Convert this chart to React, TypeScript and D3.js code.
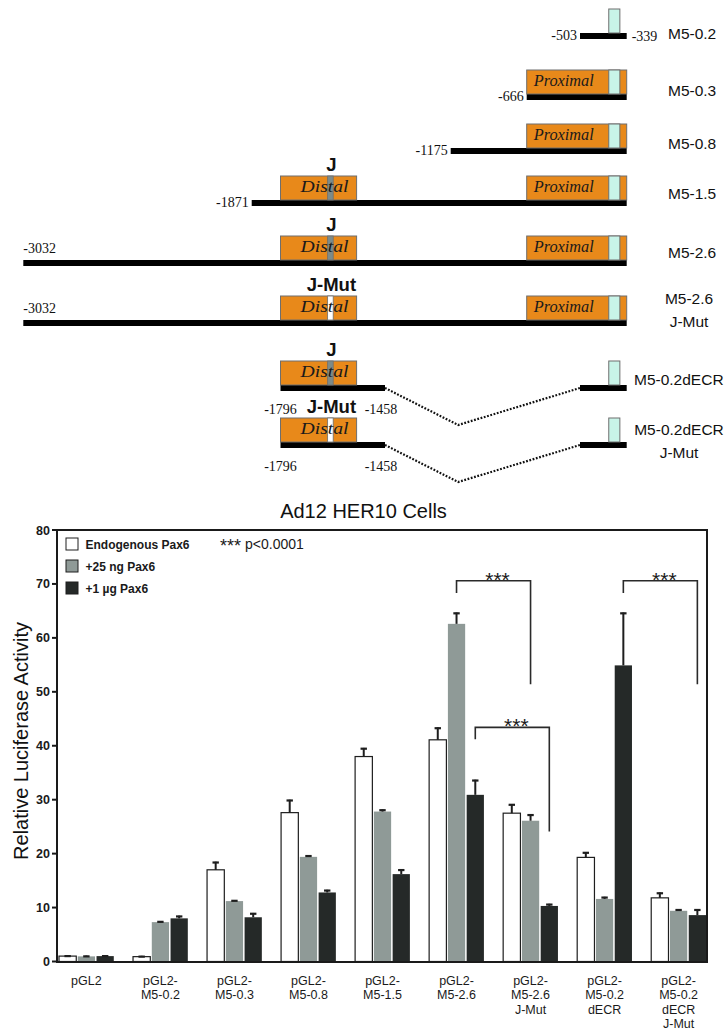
import React from "react";
import * as d3 from "d3";

// ---------------- Bar chart data ----------------
const groupLabelLines: string[][] = [
  ["pGL2"],
  ["pGL2-", "M5-0.2"],
  ["pGL2-", "M5-0.3"],
  ["pGL2-", "M5-0.8"],
  ["pGL2-", "M5-1.5"],
  ["pGL2-", "M5-2.6"],
  ["pGL2-", "M5-2.6", "J-Mut"],
  ["pGL2-", "M5-0.2", "dECR"],
  ["pGL2-", "M5-0.2", "dECR", "J-Mut"],
];
const seriesNames = ["Endogenous Pax6", "+25 ng Pax6", "+1 µg Pax6"];
const endogenous = [1.0, 0.9, 17.0, 27.6, 38.0, 41.1, 27.5, 19.3, 11.8];
const endogenousErr = [0.15, 0.15, 1.5, 2.4, 1.6, 2.3, 1.7, 1.0, 1.0];
const pax6_25ng = [0.95, 7.3, 11.2, 19.4, 27.8, 62.6, 26.1, 11.6, 9.4];
const pax6_25ngErr = [0.15, 0.2, 0.2, 0.3, 0.4, 2.1, 1.2, 0.4, 0.3];
const pax6_1ug = [1.0, 8.0, 8.2, 12.8, 16.2, 30.9, 10.3, 54.9, 8.6];
const pax6_1ugErr = [0.15, 0.5, 0.8, 0.5, 0.9, 2.8, 0.4, 9.8, 1.1];
const yTicks = [0, 10, 20, 30, 40, 50, 60, 70, 80];
const chartTitle = "Ad12 HER10 Cells";
const yAxisTitle = "Relative Luciferase Activity";
const pValueStars = "***";
const pValueText = "p<0.0001";
const sigLabel = "***";
const bracketFrom = [5, 5, 7];
const bracketTo = [6, 6, 8];
const bracketSeries = [1, 2, 2];
const bracketTop = [70.6, 43.4, 70.6];
const bracketLeftEnd = [68.3, 41.2, 68.3];
const bracketRightEnd = [51.4, 24.1, 51.4];

// ---------------- Promoter diagram data ----------------
const constructRightLabels: string[][] = [
  ["M5-0.2"],
  ["M5-0.3"],
  ["M5-0.8"],
  ["M5-1.5"],
  ["M5-2.6"],
  ["M5-2.6", "J-Mut"],
  ["M5-0.2dECR"],
  ["M5-0.2dECR", "J-Mut"],
];
const constructStart = [-503, -666, -1175, -1871, -3032, -3032, -1796, -1796];
const constructEnd = -339;
const distalSite = ["", "", "", "J", "J", "J-Mut", "J", "J-Mut"];
const hasProximal = [false, true, true, true, true, true, false, false];
const hasDeletion = [false, false, false, false, false, false, true, true];
const deletionRange = [-1458, -503];
const distalRange = [-1796, -1549];
const jSiteRange = [-1643, -1625];
const proximalRange = [-666, -339];
const tataRange = [-402, -363];
const startLabelMode = ["end", "end", "end", "end", "above", "above", "below", "below"];

// ---------------- layout ----------------
const W = 726;
const H = 1030;
const SANS = "'Liberation Sans', Arial, Helvetica, sans-serif";
const SERIF = "'Liberation Serif', 'Times New Roman', serif";
const ORANGE = "#e8891a";
const MINT = "#c8f4e8";
const BOX_STROKE = "#6e6e6e";
const rowBarTop = [33, 94, 148, 200, 260, 320, 385, 442];
const rightLabelBaseline = [39, 96, 149, 199, 258, 304, 385, 435];

export default function App() {
  const nG = groupLabelLines.length;
  const x0 = d3
    .scaleBand<number>()
    .domain(d3.range(nG))
    .range([59, 706])
    .paddingInner(0.26)
    .paddingOuter(0);
  const x1 = d3
    .scaleBand<number>()
    .domain([0, 1, 2])
    .range([0, x0.bandwidth()])
    .paddingInner(0.08);
  const y = d3.scaleLinear().domain([0, 80]).range([961.5, 530]);
  const plotLeft = 57;
  const plotRight = 707;

  const series = [
    { values: endogenous, err: endogenousErr, fill: "#ffffff", stroke: "#1e1e1e" },
    { values: pax6_25ng, err: pax6_25ngErr, fill: "#8f9a97", stroke: "none" },
    { values: pax6_1ug, err: pax6_1ugErr, fill: "#252928", stroke: "none" },
  ];
  const barCenter = (g: number, s: number) => (x0(g) as number) + (x1(s) as number) + x1.bandwidth() / 2;

  const bp = d3
    .scaleLinear()
    .domain([-3032, -1871, -1796, -1549, -1458, -1175, -666, -503, -339])
    .range([23.3, 251.7, 280.5, 356.6, 385, 450.7, 526.7, 580, 626.7]);
  const BAR_H = 6;
  const BOX_H = 24;

  const diagram = constructRightLabels.map((lines, i) => {
    const top = rowBarTop[i];
    const boxTop = top - BOX_H;
    const els: React.ReactNode[] = [];
    if (hasDeletion[i]) {
      const xa = bp(constructStart[i]);
      const xb = bp(deletionRange[0]);
      const xc = bp(deletionRange[1]);
      const xd = bp(constructEnd);
      els.push(<rect key="b1" x={xa} y={top} width={xb - xa} height={BAR_H} fill="#000" />);
      els.push(<rect key="b2" x={xc} y={top} width={xd - xc} height={BAR_H} fill="#000" />);
      const vx = xb + (xc - xb) * 0.375;
      els.push(
        <polyline
          key="dots"
          points={`${xb},${top + 3} ${vx},${top + 40} ${xc},${top + 3}`}
          fill="none"
          stroke="#111"
          strokeWidth={2.2}
          strokeDasharray="1.8,1.6"
        />
      );
    } else {
      const xa = bp(constructStart[i]);
      const xd = bp(constructEnd);
      els.push(<rect key="b" x={xa} y={top} width={xd - xa} height={BAR_H} fill="#000" />);
    }
    if (distalSite[i]) {
      const dx0 = bp(distalRange[0]);
      const dx1 = bp(distalRange[1]);
      const jx0 = bp(jSiteRange[0]);
      const jx1 = bp(jSiteRange[1]);
      const mut = distalSite[i] === "J-Mut";
      els.push(
        <rect key="dist" x={dx0} y={boxTop} width={dx1 - dx0} height={BOX_H} fill={ORANGE} stroke={BOX_STROKE} strokeWidth={1} />
      );
      els.push(
        <rect key="j" x={jx0} y={boxTop} width={jx1 - jx0} height={BOX_H} fill={mut ? "#ffffff" : "#7d8b89"} stroke={BOX_STROKE} strokeWidth={0.8} />
      );
      els.push(
        <text
          key="dt"
          x={(dx0 + dx1) / 2 + 6}
          y={top - 8}
          textAnchor="middle"
          fontFamily={SERIF}
          fontStyle="italic"
          fontSize={16}
          textLength={48}
          lengthAdjust="spacingAndGlyphs"
          fill="#1a1a1a"
        >
          Distal
        </text>
      );
      els.push(
        <text
          key="jl"
          x={(jx0 + jx1) / 2 + 1}
          y={boxTop - 5}
          textAnchor="middle"
          fontFamily={SANS}
          fontWeight="bold"
          fontSize={18.5}
          fill="#111"
        >
          {distalSite[i]}
        </text>
      );
    }
    const tx0 = bp(tataRange[0]);
    const tx1 = bp(tataRange[1]);
    if (hasProximal[i]) {
      const px0 = bp(proximalRange[0]);
      const px1 = bp(proximalRange[1]);
      els.push(
        <rect key="prox" x={px0} y={boxTop} width={px1 - px0} height={BOX_H} fill={ORANGE} stroke={BOX_STROKE} strokeWidth={1} />
      );
      els.push(
        <text
          key="pt"
          x={(px0 + tx0) / 2 - 4}
          y={top - 8}
          textAnchor="middle"
          fontFamily={SERIF}
          fontStyle="italic"
          fontSize={16}
          textLength={60}
          lengthAdjust="spacingAndGlyphs"
          fill="#1a1a1a"
        >
          Proximal
        </text>
      );
    }
    els.push(
      <rect key="tata" x={tx0} y={boxTop} width={tx1 - tx0} height={BOX_H} fill={MINT} stroke={BOX_STROKE} strokeWidth={1} />
    );
    const mode = startLabelMode[i];
    const sx = bp(constructStart[i]);
    if (mode === "end") {
      els.push(
        <text key="sl" x={sx - 3} y={top + 7} textAnchor="end" fontFamily={SERIF} fontSize={14} fill="#111">
          {String(constructStart[i])}
        </text>
      );
    } else if (mode === "above") {
      els.push(
        <text key="sl" x={sx} y={top - 7} textAnchor="start" fontFamily={SERIF} fontSize={14} fill="#111">
          {String(constructStart[i])}
        </text>
      );
    } else {
      els.push(
        <text key="sl" x={sx} y={top + 29} textAnchor="middle" fontFamily={SERIF} fontSize={14} fill="#111">
          {String(constructStart[i])}
        </text>
      );
      els.push(
        <text key="sl2" x={bp(deletionRange[0]) - 4} y={top + 29} textAnchor="middle" fontFamily={SERIF} fontSize={14} fill="#111">
          {String(deletionRange[0])}
        </text>
      );
    }
    if (i === 0) {
      els.push(
        <text key="el" x={bp(constructEnd) + 5} y={top + 8} textAnchor="start" fontFamily={SERIF} fontSize={14} fill="#111">
          {String(constructEnd)}
        </text>
      );
    }
    if (lines.length === 1) {
      els.push(
        <text
          key="rl"
          x={lines[0].length > 7 ? 634 : 668}
          y={rightLabelBaseline[i]}
          textAnchor="start"
          fontFamily={SANS}
          fontSize={15.5}
          fill="#111"
        >
          {lines[0]}
        </text>
      );
    } else {
      const cx = lines[0].length > 7 ? 679 : 689;
      lines.forEach((ln, k) => {
        els.push(
          <text
            key={"rl" + k}
            x={cx}
            y={rightLabelBaseline[i] + k * 23}
            textAnchor="middle"
            fontFamily={SANS}
            fontSize={15.5}
            fill="#111"
          >
            {ln}
          </text>
        );
      });
    }
    return <g key={"row" + i}>{els}</g>;
  });

  return (
    <svg
      width={W}
      height={H}
      viewBox={`0 0 ${W} ${H}`}
      style={{ position: "absolute", left: 0, top: 0, background: "#fff" }}
    >
      <rect x={0} y={0} width={W} height={H} fill="#fff" />
      {diagram}

      <text x={363.5} y={518} textAnchor="middle" fontFamily={SANS} fontSize={20} fill="#111">
        {chartTitle}
      </text>

      <text
        transform={`translate(28,741) rotate(-90)`}
        textAnchor="middle"
        fontFamily={SANS}
        fontSize={20}
        fill="#111"
      >
        {yAxisTitle}
      </text>

      {series.map((s, si) =>
        s.values.map((v, g) => {
          const bx = (x0(g) as number) + (x1(si) as number);
          return (
            <rect
              key={`bar-${si}-${g}`}
              x={bx}
              y={y(v)}
              width={x1.bandwidth()}
              height={y(0) - y(v)}
              fill={s.fill}
              stroke={s.stroke}
              strokeWidth={s.stroke === "none" ? 0 : 1.2}
            />
          );
        })
      )}

      {series.map((s, si) =>
        s.values.map((v, g) => {
          const cx = barCenter(g, si);
          const yt = y(v + s.err[g]);
          return (
            <g key={`err-${si}-${g}`} stroke="#1e1e1e">
              <line x1={cx} x2={cx} y1={y(v)} y2={yt} strokeWidth={2} />
              <line x1={cx - 3.2} x2={cx + 3.2} y1={yt + 0.8} y2={yt + 0.8} strokeWidth={2.2} />
            </g>
          );
        })
      )}

      <g stroke="#1a1a1a" strokeWidth={2} fill="none">
        <line x1={plotLeft} x2={plotLeft} y1={529} y2={962.5} />
        <line x1={plotLeft - 1} x2={plotRight + 1} y1={y(0) + 0.5} y2={y(0) + 0.5} />
        <line x1={plotLeft} x2={plotRight + 1} y1={y(80)} y2={y(80)} />
        <line x1={plotRight} x2={plotRight} y1={y(80)} y2={y(0)} />
        {yTicks.map((t) => (
          <line key={"tk" + t} x1={plotLeft - 5} x2={plotLeft} y1={y(t)} y2={y(t)} />
        ))}
      </g>
      {yTicks.map((t) => (
        <text
          key={"tl" + t}
          x={50}
          y={y(t) + 4.5}
          textAnchor="end"
          fontFamily={SANS}
          fontWeight="bold"
          fontSize={12.5}
          fill="#1a1a1a"
        >
          {t}
        </text>
      ))}

      {groupLabelLines.map((lines, g) => {
        const cx = (x0(g) as number) + x0.bandwidth() / 2;
        return lines.map((ln, k) => (
          <text
            key={`xl-${g}-${k}`}
            x={cx}
            y={984.5 + k * 14.5}
            textAnchor="middle"
            fontFamily={SANS}
            fontSize={12.5}
            fill="#1a1a1a"
          >
            {ln}
          </text>
        ));
      })}

      {seriesNames.map((name, i) => (
        <g key={"lg" + i}>
          <rect x={66} y={538 + i * 22} width={12} height={12} fill={series[i].fill} stroke="#1e1e1e" strokeWidth={1} />
          <text x={85.5} y={548.5 + i * 22} fontFamily={SANS} fontWeight="bold" fontSize={12} fill="#1a1a1a">
            {name}
          </text>
        </g>
      ))}
      <text x={220} y={552} fontFamily={SANS} fontSize={18} fill="#1a1a1a">
        {pValueStars}
      </text>
      <text x={245} y={549} fontFamily={SANS} fontSize={14} fill="#1a1a1a">
        {pValueText}
      </text>

      {bracketFrom.map((gf, i) => {
        const xl = barCenter(gf, bracketSeries[i]);
        const xr = barCenter(bracketTo[i], bracketSeries[i]);
        const yt = y(bracketTop[i]);
        return (
          <g key={"br" + i}>
            <polyline
              points={`${xl},${y(bracketLeftEnd[i])} ${xl},${yt} ${xr},${yt} ${xr},${y(bracketRightEnd[i])}`}
              fill="none"
              stroke="#2a2a2a"
              strokeWidth={1.6}
            />
            <text
              x={(xl + xr) / 2 + 4}
              y={yt + 6}
              textAnchor="middle"
              fontFamily={SANS}
              fontSize={21}
              fill="#1a1a1a"
            >
              {sigLabel}
            </text>
          </g>
        );
      })}
    </svg>
  );
}
